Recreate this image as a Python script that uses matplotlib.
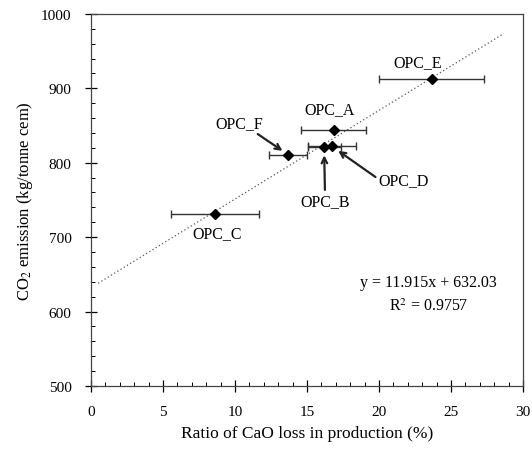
import matplotlib.pyplot as plt
from matplotlib.ticker import MultipleLocator
import numpy as np

plt.rcParams['font.family'] = 'Liberation Serif'
plt.rcParams['mathtext.fontset'] = 'stix'

# cement types: CaO loss ratio (%), CO2 emission, x error
names = ['OPC_A', 'OPC_B', 'OPC_C', 'OPC_D', 'OPC_E', 'OPC_F']
cao_loss = [16.87, 16.2, 8.61, 16.74, 23.66, 13.7]
co2 = [844, 821, 731, 823, 912.6, 810]
cao_err = [2.25, 1.15, 3.08, 1.65, 3.65, 1.33]

slope, intercept = 11.915, 632.03
r2 = 0.9757

fig = plt.figure(figsize=(5.32, 4.52), dpi=100)
ax = fig.add_axes([0.171, 0.144, 0.812, 0.823])

# linear trend
xt = np.array([0.5, 28.6])
ax.plot(xt, slope * xt + intercept, ls=(0, (1, 2)), color='#555555', lw=0.9, zorder=1)

ax.errorbar(cao_loss, co2, xerr=cao_err, fmt='D', color='black', ms=5,
            ecolor='#333333', elinewidth=1.0, capsize=2.6, capthick=1.0, zorder=3)

fs = 11.5
# labels placed next to points
ax.text(22.7, 935, 'OPC_E', ha='center', va='center', fontsize=fs)
ax.text(16.6, 872, 'OPC_A', ha='center', va='center', fontsize=fs)
ax.text(8.73, 706, 'OPC_C', ha='center', va='center', fontsize=fs)

arrow = dict(arrowstyle='->', color='#222222', lw=1.6, mutation_scale=10, shrinkA=0, shrinkB=0)
ax.annotate('OPC_F', xy=(13.3, 816), xytext=(10.3, 853), ha='center', va='center',
            fontsize=fs, arrowprops=dict(arrow, relpos=(0.8, 0.0)))
ax.annotate('OPC_B', xy=(16.2, 810), xytext=(16.25, 749), ha='center', va='center',
            fontsize=fs, arrowprops=dict(arrow, relpos=(0.5, 1.0)))
ax.annotate('OPC_D', xy=(17.17, 816), xytext=(21.7, 776), ha='center', va='center',
            fontsize=fs, arrowprops=dict(arrow, relpos=(0.0, 0.6)))

ax.text(23.4, 639, f'y = {slope}x + {intercept}', ha='center', va='center', fontsize=fs)
ax.text(23.4, 608, f'R$^2$ = {r2}', ha='center', va='center', fontsize=fs)

ax.set_xlim(0, 30)
ax.set_ylim(500, 1000)
ax.xaxis.set_major_locator(MultipleLocator(5))
ax.xaxis.set_minor_locator(MultipleLocator(1))
ax.yaxis.set_major_locator(MultipleLocator(100))
ax.yaxis.set_minor_locator(MultipleLocator(20))
ax.tick_params(which='major', direction='inout', length=8, width=0.9, labelsize=11, pad=10)
ax.tick_params(which='minor', direction='in', length=3, width=0.7)
ax.tick_params(top=False, right=False)
for s in ax.spines.values():
    s.set_color('#444444')
    s.set_linewidth(0.9)

ax.set_xlabel('Ratio of CaO loss in production (%)', fontsize=12.5, labelpad=4.5)
ax.set_ylabel('CO$_2$ emission (kg/tonne cem)', fontsize=12, labelpad=4.5)

fig.savefig('out.png', dpi=100)
